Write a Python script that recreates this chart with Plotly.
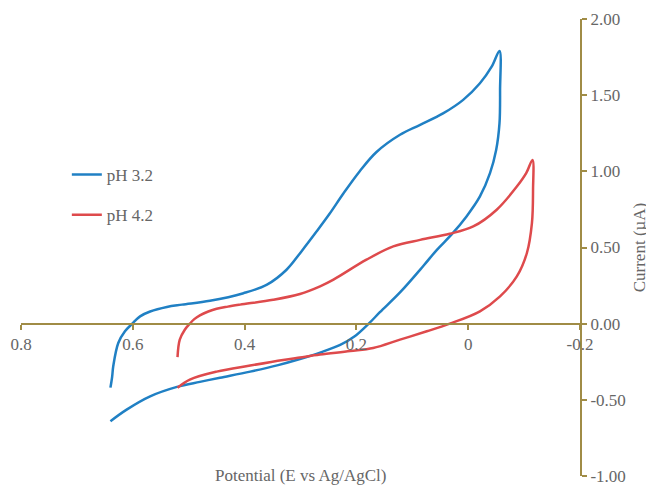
import plotly.graph_objects as go

# pH 3.2 (blue) cyclic voltammogram
x_ph32 = [0.640, 0.637, 0.635, 0.626, 0.614, 0.601, 0.587, 0.569, 0.539, 0.512, 0.462, 0.402, 0.360,
          0.325, 0.298, 0.271, 0.248, 0.223, 0.194, 0.164, 0.122, 0.086, 0.045, 0.009, -0.021, -0.042,
          -0.056, -0.057, -0.056, -0.050, -0.039, -0.021, 0.003, 0.030, 0.056, 0.080, 0.122, 0.158,
          0.178, 0.203, 0.229, 0.265, 0.301, 0.340, 0.390, 0.444, 0.480, 0.521, 0.569, 0.611, 0.640]
y_ph32 = [-0.42, -0.35, -0.28, -0.127, -0.05, 0.0, 0.048, 0.08, 0.11, 0.125, 0.150, 0.200, 0.256,
          0.354, 0.476, 0.606, 0.721, 0.856, 1.001, 1.127, 1.24, 1.305, 1.38, 1.469, 1.578, 1.687,
          1.79, 1.534, 1.316, 1.14, 0.988, 0.835, 0.704, 0.584, 0.485, 0.380, 0.205, 0.075,
          0.0, -0.083, -0.14, -0.19, -0.232, -0.272, -0.315, -0.355, -0.382, -0.415, -0.477, -0.564, -0.64]

# pH 4.2 (red) cyclic voltammogram
x_ph42 = [0.520, 0.516, 0.507, 0.498, 0.490, 0.480, 0.465, 0.450, 0.430, 0.408, 0.349, 0.301, 0.265,
          0.241, 0.182, 0.134, 0.086, 0.033, -0.009, -0.051, -0.087, -0.104, -0.115, -0.116, -0.114,
          -0.105, -0.087, -0.057, -0.021, 0.033, 0.074, 0.122, 0.170, 0.211, 0.265, 0.301, 0.331,
          0.390, 0.450, 0.498, 0.520]
y_ph42 = [-0.22, -0.105, -0.04, 0.0, 0.03, 0.055, 0.08, 0.098, 0.112, 0.125, 0.157, 0.195, 0.245,
          0.289, 0.42, 0.507, 0.55, 0.59, 0.638, 0.748, 0.90, 0.99, 1.075, 0.879, 0.66,
          0.464, 0.31, 0.179, 0.081, 0.0, -0.05, -0.105, -0.16, -0.18, -0.203, -0.222, -0.238,
          -0.275, -0.315, -0.367, -0.42]

x_tickvals = [0.8, 0.6, 0.4, 0.2, 0, -0.2]
x_ticktext = ["0.8", "0.6", "0.4", "0.2", "0", "-0.2"]
y_tickvals = [2.0, 1.5, 1.0, 0.5, 0.0, -0.5, -1.0]
y_ticktext = ["2.00", "1.50", "1.00", "0.50", "0.00", "-0.50", "-1.00"]

AXIS = "#A08C46"
TEXT = "#666666"
FONT = "Liberation Serif"

fig = go.Figure()
fig.add_trace(go.Scatter(x=x_ph32, y=y_ph32, mode="lines", name="pH 3.2", legendgroup="a",
                         line=dict(color="#2080C4", width=2.5, shape="spline", smoothing=1.0)))
fig.add_trace(go.Scatter(x=x_ph42, y=y_ph42, mode="lines", name="pH 4.2", legendgroup="b",
                         line=dict(color="#DE4A4C", width=2.5, shape="spline", smoothing=1.0)))

# page body has an 8px default margin, so the figure is shrunk by 8px and margins compensate
fig.update_layout(
    width=646, height=478,
    margin=dict(l=13, r=74, t=11, b=10),
    plot_bgcolor="white", paper_bgcolor="white",
    font=dict(family=FONT, size=17, color=TEXT),
    showlegend=True,
    legend=dict(x=0.082, y=0.698, xanchor="left", yanchor="top", bgcolor="rgba(0,0,0,0)",
                font=dict(family=FONT, size=17, color=TEXT), tracegroupgap=15, traceorder="grouped"),
    xaxis=dict(range=[0.8, -0.2], tickvals=x_tickvals, ticktext=x_ticktext,
               anchor="free", position=1/3, showline=True, linecolor=AXIS, linewidth=2,
               ticks="outside", ticklen=5, tickwidth=2, tickcolor=AXIS, automargin=False,
               showgrid=False, zeroline=False, tickfont=dict(family=FONT, size=17, color=TEXT)),
    yaxis=dict(range=[-1, 2], tickvals=y_tickvals, ticktext=y_ticktext, side="right",
               showline=True, linecolor=AXIS, linewidth=2, automargin=False,
               ticks="outside", ticklen=5, tickwidth=2, tickcolor=AXIS,
               showgrid=False, zeroline=False, tickfont=dict(family=FONT, size=17, color=TEXT),
               title=dict(text="Current (µA)", font=dict(family=FONT, size=17, color=TEXT), standoff=8)),
    annotations=[dict(text="Potential (E vs Ag/AgCl)", xref="paper", yref="paper", x=0.5, y=0.002,
                      xanchor="center", yanchor="middle", showarrow=False,
                      font=dict(family=FONT, size=17, color=TEXT))],
)

fig.write_html("out.html")
